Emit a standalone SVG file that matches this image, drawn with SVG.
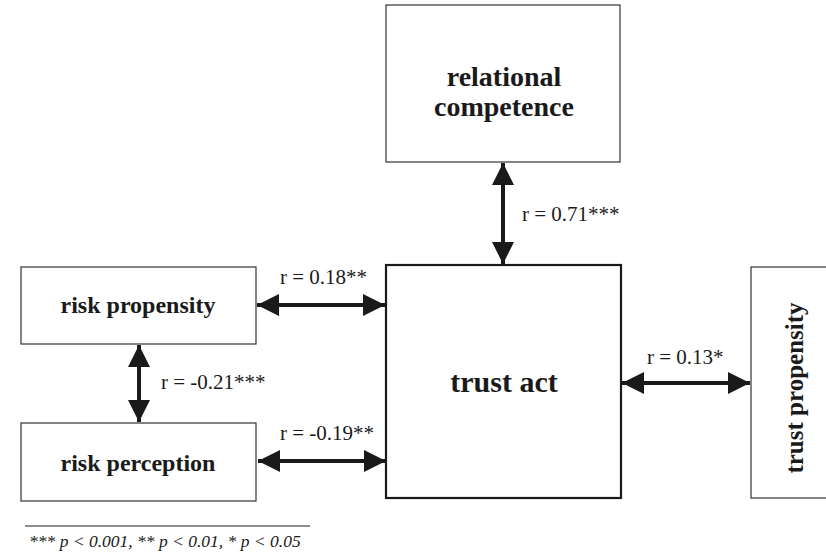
<svg xmlns="http://www.w3.org/2000/svg" width="826" height="553" viewBox="0 0 826 553">
<defs>
<marker id="ah" viewBox="0 0 10 10" refX="10" refY="5" markerWidth="5.6" markerHeight="5.6" orient="auto-start-reverse" markerUnits="strokeWidth">
<path d="M0,0 L10,5 L0,10 Z" fill="#1a1a1a"/>
</marker>
<style>
.box{fill:#fff;stroke:#333;stroke-width:1.2}
.main{fill:#fff;stroke:#1a1a1a;stroke-width:2.2}
.c{stroke:#1a1a1a;stroke-width:4;fill:none;marker-start:url(#ah);marker-end:url(#ah)}
</style>
</defs>
<rect width="826" height="553" fill="#fff"/>
<g font-family="Liberation Serif, Times New Roman, serif" font-weight="bold" fill="#1a1a1a" text-anchor="middle">
<g id="relational-competence">
<rect class="box" x="386" y="5" width="234" height="157"/>
<text x="504" y="86" font-size="28">relational</text>
<text x="504" y="116" font-size="28">competence</text>
</g>
<g id="risk-propensity">
<rect class="box" x="21" y="267" width="235" height="77"/>
<text x="138" y="313" font-size="24">risk propensity</text>
</g>
<g id="risk-perception">
<rect class="box" x="21" y="423" width="235" height="78"/>
<text x="138" y="471" font-size="24">risk perception</text>
</g>
<g id="trust-act">
<rect class="main" x="386" y="265" width="235" height="233"/>
<text x="504" y="392" font-size="30">trust act</text>
</g>
<g id="trust-propensity">
<rect class="box" x="751" y="267" width="90" height="231"/>
<text transform="translate(803,388) rotate(-90)" font-size="25">trust propensity</text>
</g>
</g>
<g id="connectors">
<line class="c" x1="503" y1="163" x2="503" y2="264"/>
<line class="c" x1="257" y1="305" x2="385" y2="305"/>
<line class="c" x1="139" y1="345" x2="139" y2="422"/>
<line class="c" x1="258" y1="461" x2="386" y2="461"/>
<line class="c" x1="622" y1="383" x2="750" y2="383"/>
</g>
<g id="labels" font-family="Liberation Serif, Times New Roman, serif" font-size="21" fill="#1a1a1a">
<text x="522" y="221">r = 0.71***</text>
<text x="280" y="284">r = 0.18**</text>
<text x="161" y="389">r = -0.21***</text>
<text x="280" y="440">r = -0.19**</text>
<text x="647" y="364">r = 0.13*</text>
</g>
<g id="footnote">
<line x1="25" y1="526" x2="310" y2="526" stroke="#1a1a1a" stroke-width="1"/>
<text x="29" y="547" font-family="Liberation Serif, Times New Roman, serif" font-size="17.5" font-style="italic" fill="#1a1a1a">*** p &lt; 0.001, ** p &lt; 0.01, * p &lt; 0.05</text>
</g>
</svg>
